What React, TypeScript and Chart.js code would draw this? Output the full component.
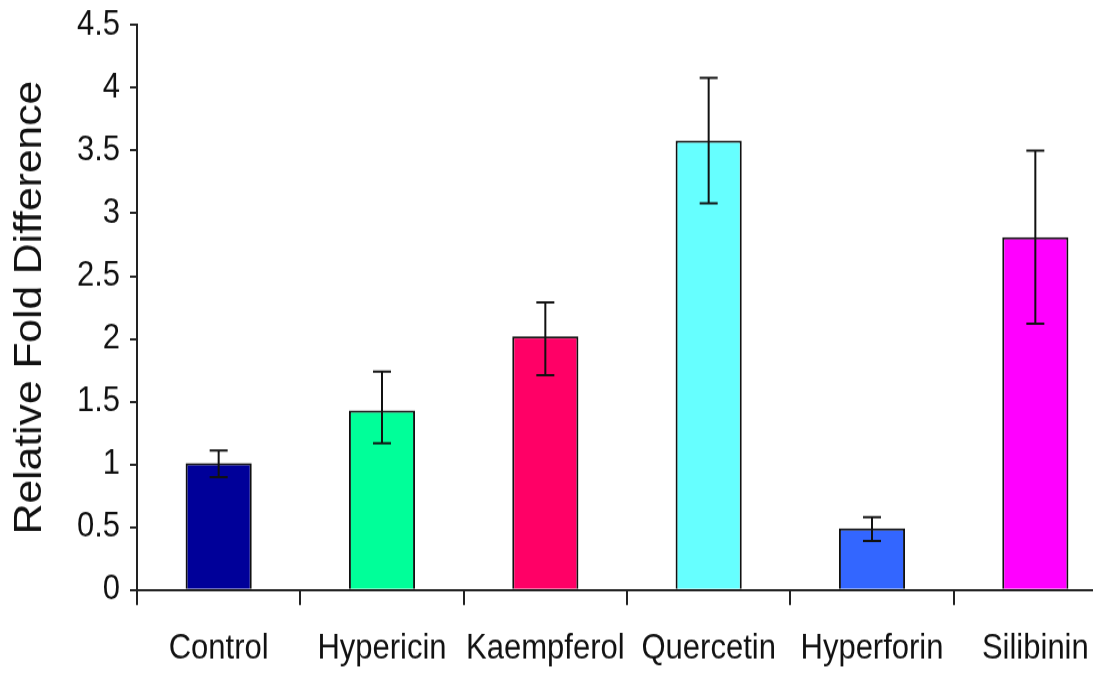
import React, { useEffect, useRef } from "react";
import { Chart, registerables } from "chart.js";

Chart.register(...registerables);

const categories = ["Control", "Hypericin", "Kaempferol", "Quercetin", "Hyperforin", "Silibinin"];
const meanValues = [1.01, 1.43, 2.02, 3.58, 0.49, 2.81];
const errorUpper = [1.11, 1.74, 2.29, 4.08, 0.58, 3.5];
const errorLower = [0.9, 1.17, 1.71, 3.08, 0.39, 2.12];
const barColors = ["#000099", "#00FF99", "#FF0066", "#66FFFF", "#3366FF", "#FF00FF"];
const yTickValues = [0, 0.5, 1, 1.5, 2, 2.5, 3, 3.5, 4, 4.5];
const yTickLabels = ["0", "0.5", "1", "1.5", "2", "2.5", "3", "3.5", "4", "4.5"];
const yAxisTitle = "Relative Fold Difference";

const STRETCH = 1.12;
const CANVAS_W = 1125;
const CANVAS_H = 602;

const errorBarPlugin = {
  id: "errorBars",
  afterDatasetsDraw(chart: any) {
    const ctx = chart.ctx;
    const meta = chart.getDatasetMeta(0);
    const yScale = chart.scales.y;
    ctx.save();
    ctx.strokeStyle = "#111";
    ctx.lineWidth = 2;
    meta.data.forEach((bar: any, i: number) => {
      const x = bar.x;
      const yHi = yScale.getPixelForValue(errorUpper[i]);
      const yLo = yScale.getPixelForValue(errorLower[i]);
      const cap = 9;
      ctx.beginPath();
      ctx.moveTo(x, yHi);
      ctx.lineTo(x, yLo);
      ctx.moveTo(x - cap, yHi);
      ctx.lineTo(x + cap, yHi);
      ctx.moveTo(x - cap, yLo);
      ctx.lineTo(x + cap, yLo);
      ctx.stroke();
    });
    ctx.restore();
  },
};

export default function App() {
  const canvasRef = useRef<HTMLCanvasElement | null>(null);

  useEffect(() => {
    if (!canvasRef.current) return;
    const chart = new Chart(canvasRef.current, {
      type: "bar",
      data: {
        labels: categories,
        datasets: [
          {
            data: meanValues,
            backgroundColor: barColors,
            borderColor: "#111",
            borderWidth: 2,
            barPercentage: 0.405,
            categoryPercentage: 1,
          },
        ],
      },
      options: {
        responsive: false,
        animation: false,
        devicePixelRatio: 1,
        layout: { padding: { top: 22.3, left: 0, right: 8, bottom: 0 } },
        plugins: {
          legend: { display: false },
          tooltip: { enabled: false },
        },
        scales: {
          x: {
            offset: true,
            afterFit(scale: any) {
              scale.height = 75.2;
              scale.paddingLeft = 0;
              scale.paddingRight = 0;
            },
            border: { display: true, color: "#222", width: 2 },
            grid: {
              offset: true,
              drawOnChartArea: false,
              drawTicks: true,
              tickLength: 13.4,
              color: "#222",
              lineWidth: 2,
            },
            ticks: {
              color: "#111",
              padding: 21,
              maxRotation: 0,
              autoSkip: false,
              font: { family: "'Liberation Sans', Arial, sans-serif", size: 31 },
            },
          },
          y: {
            min: 0,
            max: 4.5,
            afterFit(scale: any) {
              scale.width = 137;
              scale.paddingTop = 0;
              scale.paddingBottom = 0;
            },
            afterBuildTicks(scale: any) {
              scale.ticks = yTickValues.map((v) => ({ value: v }));
            },
            border: { display: true, color: "#222", width: 2 },
            grid: {
              drawOnChartArea: false,
              drawTicks: true,
              tickLength: 7,
              color: "#222",
              lineWidth: 2,
            },
            ticks: {
              color: "#111",
              padding: 10,
              font: { family: "'Liberation Sans', Arial, sans-serif", size: 31 },
              callback: (value: any) => {
                const idx = yTickValues.indexOf(Number(value));
                return idx >= 0 ? yTickLabels[idx] : "";
              },
            },
            title: {
              display: true,
              text: yAxisTitle,
              color: "#111",
              padding: { top: 8, bottom: 0 },
              font: { family: "'Liberation Sans', Arial, sans-serif", size: 38 },
            },
          },
        },
      },
      plugins: [errorBarPlugin],
    });
    return () => chart.destroy();
  }, []);

  return (
    <div
      style={{
        position: "fixed",
        left: 0,
        top: 0,
        width: 1093,
        height: 674,
        overflow: "hidden",
        background: "#fff",
      }}
    >
      <div
        style={{
          width: CANVAS_W,
          height: CANVAS_H,
          transform: `scaleY(${STRETCH})`,
          transformOrigin: "0 0",
        }}
      >
        <canvas
          ref={canvasRef}
          width={CANVAS_W}
          height={CANVAS_H}
          style={{ display: "block" }}
        />
      </div>
    </div>
  );
}
